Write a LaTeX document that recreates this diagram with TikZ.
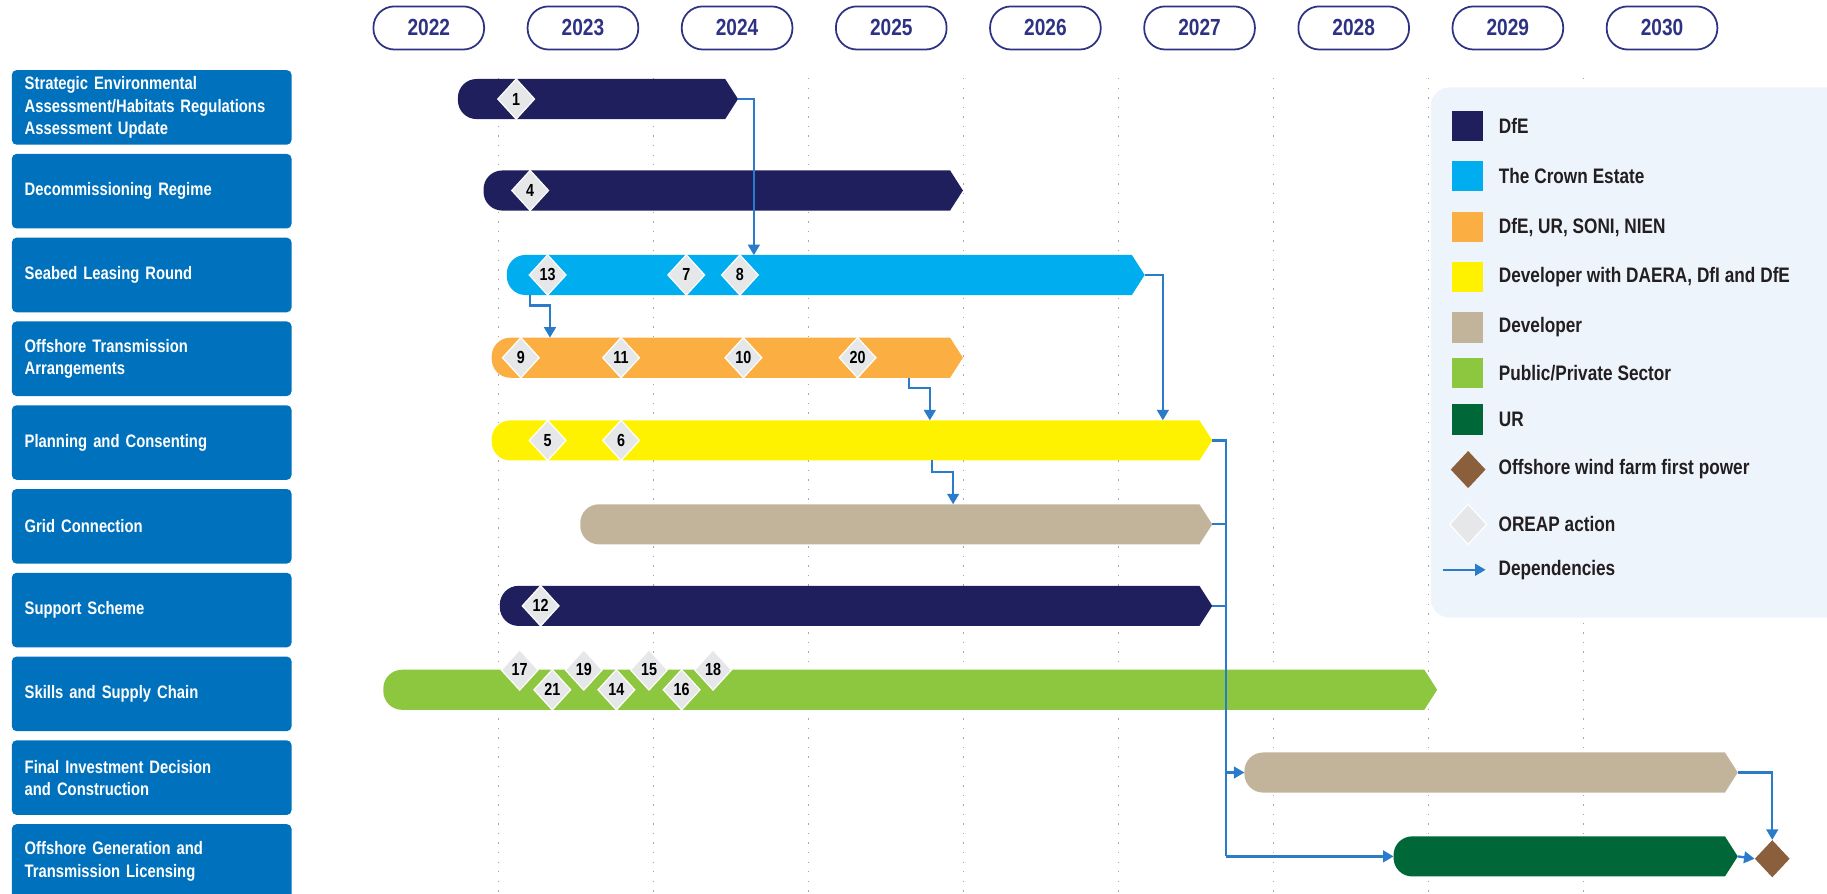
\documentclass[tikz,border=0pt]{standalone}
\usepackage{fontspec}
\setmainfont{Liberation Sans}[FakeStretch=0.82]
\usepackage{tikz}
\usetikzlibrary{positioning,calc,arrows.meta,shapes.geometric}

\definecolor{dfenavy}{HTML}{1E1F5C}
\definecolor{crowncyan}{HTML}{00AEEF}
\definecolor{gridorange}{HTML}{FBAE42}
\definecolor{consentyellow}{HTML}{FFF200}
\definecolor{devtan}{HTML}{C2B49A}
\definecolor{sectorgreen}{HTML}{8DC63F}
\definecolor{urgreen}{HTML}{006838}
\definecolor{powerbrown}{HTML}{8B5E3C}
\definecolor{rowblue}{HTML}{0071BC}
\definecolor{depblue}{HTML}{2A7BC9}
\definecolor{legendbg}{HTML}{EEF4FC}
\definecolor{actiongray}{HTML}{E6E7E8}
\definecolor{yearnavy}{HTML}{2E3282}
\definecolor{keyink}{HTML}{231F20}

\newcommand{\rowfont}{\bfseries\fontsize{15.5}{19}\selectfont\spaceskip=3.6pt\relax}
\newcommand{\keyfont}{\bfseries\fontsize{18}{18}\selectfont\spaceskip=4.2pt\relax}

\tikzset{
  yearpill/.style={draw=yearnavy, line width=1.5pt, rounded corners=18pt, fill=white,
    minimum width=95pt, minimum height=37pt, text=yearnavy,
    font=\bfseries\fontsize{20}{20}\selectfont},
  rowlabel/.style={fill=rowblue, rounded corners=4pt, minimum height=64pt,
    text width=218pt, inner xsep=11pt, align=left, text=white, font=\rowfont},
  barnode/.style={minimum height=34pt, inner sep=0pt, anchor=west},
  oreap/.style={diamond, fill=actiongray, draw=white, line width=1pt,
    minimum width=32pt, minimum height=35pt, inner sep=0pt, text=black,
    font=\bfseries\fontsize{15}{15}\selectfont},
  firstpower/.style={diamond, fill=powerbrown, minimum width=30pt,
    minimum height=32pt, inner sep=0pt},
  gridline/.style={gray!70, line width=1pt, dash pattern=on 1.2pt off 7pt},
  dep/.style={draw=depblue, line width=2pt, -{Triangle[length=9pt,width=10pt]}},
  depline/.style={draw=depblue, line width=2pt},
  keysq/.style={minimum width=27pt, minimum height=26pt, inner sep=0pt},
  keytext/.style={anchor=west, inner sep=0pt, text=keyink, font=\keyfont},
}

% name, start x, end x, y, colour
\newcommand{\ganttbar}[5]{%
  \node[barnode, minimum width={#3-#2}] (#1) at (#2,#4) {};
  \fill[#5] ($(#1.north east)+(-11,0)$) [rounded corners=16pt] -- (#1.north west)
    -- (#1.south west) [sharp corners] -- ($(#1.south east)+(-11,0)$) -- (#1.east) -- cycle;
}

\begin{document}
\begin{tikzpicture}[x=1pt,y=-1pt]
    \useasboundingbox (0,0) rectangle (1568,767);

    % year grid
    \draw[gridline] (428,67) -- (428,767);
    \draw[gridline] (561,67) -- (561,767);
    \draw[gridline] (694,67) -- (694,767);
    \draw[gridline] (827,67) -- (827,767);
    \draw[gridline] (960,67) -- (960,767);
    \draw[gridline] (1093,67) -- (1093,767);
    \draw[gridline] (1226,67) -- (1226,767);
    \draw[gridline] (1359,67) -- (1359,767);

    % years
    \node[yearpill] (y2022) at (368,24) {2022};
    \node[yearpill, right=35.8pt of y2022] (y2023) {2023};
    \node[yearpill, right=35.8pt of y2023] (y2024) {2024};
    \node[yearpill, right=35.8pt of y2024] (y2025) {2025};
    \node[yearpill, right=35.8pt of y2025] (y2026) {2026};
    \node[yearpill, right=35.8pt of y2026] (y2027) {2027};
    \node[yearpill, right=35.8pt of y2027] (y2028) {2028};
    \node[yearpill, right=35.8pt of y2028] (y2029) {2029};
    \node[yearpill, right=35.8pt of y2029] (y2030) {2030};

    % workstreams
    \node[rowlabel, anchor=north west] (row1) at (10,60) {Strategic Environmental\\Assessment/Habitats Regulations\\Assessment Update};
    \node[rowlabel, below=7.5pt of row1] (row2) {Decommissioning Regime};
    \node[rowlabel, below=7.5pt of row2] (row3) {Seabed Leasing Round};
    \node[rowlabel, below=7.5pt of row3] (row4) {Offshore Transmission\\Arrangements};
    \node[rowlabel, below=7.5pt of row4] (row5) {Planning and Consenting};
    \node[rowlabel, below=7.5pt of row5] (row6) {Grid Connection};
    \node[rowlabel, below=7.5pt of row6] (row7) {Support Scheme};
    \node[rowlabel, below=7.5pt of row7] (row8) {Skills and Supply Chain};
    \node[rowlabel, below=7.5pt of row8] (row9) {Final Investment Decision\\and Construction};
    \node[rowlabel, below=7.5pt of row9] (row10) {Offshore Generation and\\Transmission Licensing};

    % legend panel
    \fill[legendbg, rounded corners=16pt] (1228,75) rectangle (1600,530);

    % bars
    \ganttbar{sea}{393}{633}{85}{dfenavy}
    \ganttbar{decom}{415}{826}{163.5}{dfenavy}
    \ganttbar{seabed}{435}{982}{236}{crowncyan}
    \ganttbar{offtrans}{422}{826}{307}{gridorange}
    \ganttbar{planning}{422}{1040}{378}{consentyellow}
    \ganttbar{gridconn}{498}{1040}{450}{devtan}
    \ganttbar{support}{429}{1040}{520}{dfenavy}
    \ganttbar{skills}{329}{1233}{592}{sectorgreen}
    \ganttbar{fid}{1068}{1491}{663}{devtan}
    \ganttbar{ogtl}{1196}{1491}{735}{urgreen}

    % OREAP actions
    \node[oreap] (act1) at (443,85) {1};
    \node[oreap] (act4) at (455,163.5) {4};
    \node[oreap] (act13) at (470,236) {13};
    \node[oreap] (act7) at (589,236) {7};
    \node[oreap] (act8) at (635,236) {8};
    \node[oreap] (act9) at (447,307) {9};
    \node[oreap] (act11) at (533,307) {11};
    \node[oreap] (act10) at (638,307) {10};
    \node[oreap] (act20) at (736,307) {20};
    \node[oreap] (act5) at (470,378) {5};
    \node[oreap] (act6) at (533,378) {6};
    \node[oreap] (act12) at (464,520) {12};
    \node[oreap] (act17) at (446,575) {17};
    \node[oreap] (act19) at (501,575) {19};
    \node[oreap] (act15) at (557,575) {15};
    \node[oreap] (act18) at (612,575) {18};
    \node[oreap] (act21) at (474,592) {21};
    \node[oreap] (act14) at (529,592) {14};
    \node[oreap] (act16) at (585,592) {16};

    \node[firstpower] (power) at (1521,737) {};

    % dependencies
    \coordinate (seaend) at (647,219);
    \coordinate (trunktop) at (1052,378);
    \coordinate (trunkbot) at (1052,735);
    \draw[dep] (sea.east) -| (seaend);
    \draw[dep] ($(seabed.south west)+(20,0)$) -- ++(0,9) -| ($(offtrans.north west)+(50,0)$);
    \draw[dep] (seabed.east) -| ($(planning.north west)+(576,0)$);
    \draw[dep] ($(offtrans.south west)+(358,0)$) -- ++(0,9) -| ($(planning.north west)+(376,0)$);
    \draw[dep] ($(planning.south west)+(378,0)$) -- ++(0,10) -| ($(gridconn.north west)+(320,0)$);
    \draw[depline] (planning.east) -- (trunktop) -- (trunkbot);
    \draw[depline] (gridconn.east) -- (gridconn.east -| trunktop);
    \draw[depline] (support.east) -- (support.east -| trunktop);
    \draw[dep] (fid.west -| trunktop) -- (fid.west);
    \draw[dep] (trunkbot) -- (ogtl.west);
    \draw[dep] (fid.east) -| (power.north);
    \draw[dep] (ogtl.east) -- (power.west);

    % legend
    \node[keysq, fill=dfenavy] (kdfe) at (1259.5,108) {};
    \node[keytext, right=13pt of kdfe] (tdfe) {DfE};
    \node[keysq, fill=crowncyan] (kcrown) at (1259.5,151) {};
    \node[keytext, right=13pt of kcrown] (tcrown) {The Crown Estate};
    \node[keysq, fill=gridorange] (kgrid) at (1259.5,195) {};
    \node[keytext, right=13pt of kgrid] (tgrid) {DfE, UR, SONI, NIEN};
    \node[keysq, fill=consentyellow] (kcons) at (1259.5,238) {};
    \node[keytext, right=13pt of kcons] (tcons) {Developer with DAERA, DfI and DfE};
    \node[keysq, fill=devtan] (kdev) at (1259.5,281) {};
    \node[keytext, right=13pt of kdev] (tdev) {Developer};
    \node[keysq, fill=sectorgreen] (ksector) at (1259.5,320) {};
    \node[keytext, right=13pt of ksector] (tsector) {Public/Private Sector};
    \node[keysq, fill=urgreen] (kur) at (1259.5,360) {};
    \node[keytext, right=13pt of kur] (tur) {UR};
    \node[firstpower] (kpower) at (1260,403) {};
    \node[keytext] (tpower) at (1286,403) {Offshore wind farm first power};
    \node[oreap] (kaction) at (1260,450) {};
    \node[keytext] (taction) at (1286,450) {OREAP action};
    \coordinate (kdepfrom) at (1238,489);
    \coordinate (kdepto) at (1275,489);
    \draw[dep] (kdepfrom) -- (kdepto);
    \node[keytext] (tdep) at (1286,489) {Dependencies};
\end{tikzpicture}
\end{document}
